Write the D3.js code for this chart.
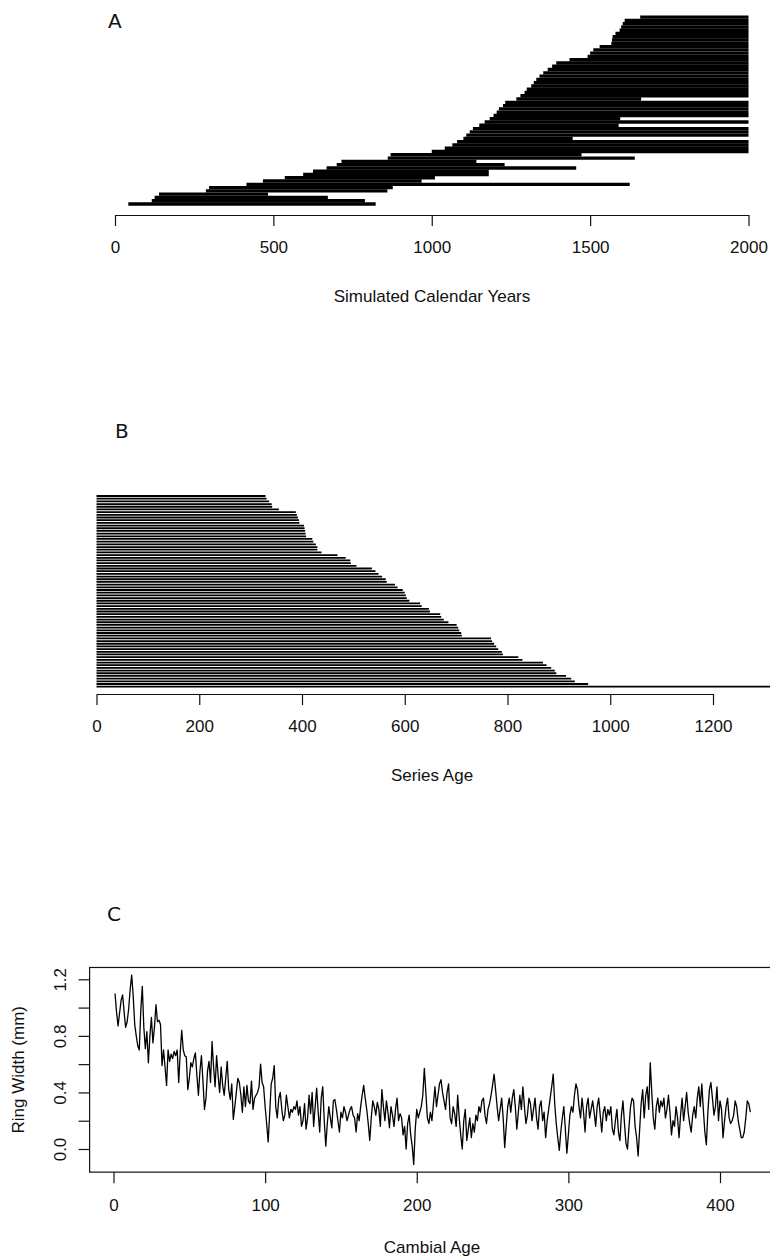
<!DOCTYPE html>
<html>
<head>
<meta charset="utf-8">
<script src="https://cdn.jsdelivr.net/npm/d3@7/dist/d3.min.js"></script>
<style>
  body { margin: 0; background: #fff; }
  svg { display: block; }
</style>
</head>
<body>
<svg id="fig" width="770" height="1256"></svg>
<script>
// ---- Panel A: series spans in simulated calendar years (earliest start first) ----
const spanStart = [42, 116, 125, 139, 287, 297, 415, 467, 536, 594,
  625, 668, 700, 715, 861, 870, 1000, 1041, 1065, 1080,
  1100, 1109, 1120, 1130, 1150, 1167, 1183, 1195, 1205, 1212,
  1225, 1232, 1267, 1280, 1293, 1300, 1314, 1322, 1330, 1340,
  1352, 1366, 1380, 1393, 1435, 1492, 1500, 1510, 1530, 1567,
  1569, 1571, 1580, 1593, 1598, 1603, 1609, 1658];
const spanEnd = [823, 789, 672, 483, 860, 877, 1625, 968, 1010, 1180,
  1180, 1456, 1230, 1141, 1641, 1473, 2000, 2000, 2000, 2000,
  1445, 2000, 2000, 2000, 1590, 2000, 1595, 2000, 2000, 2000,
  2000, 2000, 1661, 2000, 2000, 2000, 2000, 2000, 2000, 2000,
  2000, 2000, 2000, 2000, 2000, 2000, 2000, 2000, 2000, 2000,
  2000, 2000, 2000, 2000, 2000, 2000, 2000, 2000];
const yearTicks = [0, 500, 1000, 1500, 2000];

// ---- Panel B: series ages, shortest first ----
const seriesAge = [329, 331, 336, 341, 342, 355, 388, 390, 392, 394,
  395, 404, 405, 406, 407, 408, 420, 422, 427, 430,
  430, 438, 469, 485, 494, 495, 506, 536, 543, 549,
  556, 563, 565, 581, 586, 596, 600, 602, 604, 609,
  630, 633, 647, 649, 669, 671, 676, 685, 701, 704,
  706, 710, 711, 768, 770, 774, 778, 782, 789, 791,
  821, 829, 869, 876, 885, 892, 895, 914, 924, 931,
  957, 1330];
const ageTicks = [0, 200, 400, 600, 800, 1000, 1200];

// ---- Panel C: ring width (mm) by cambial age 1..420 ----
const ringWidth = [
  1.10, 0.97, 0.87, 0.96, 1.05, 1.09, 0.97, 0.86, 0.90, 0.99,
  1.13, 1.23, 1.08, 0.88, 0.80, 0.73, 0.70, 0.98, 1.15, 0.86,
  0.71, 0.83, 0.61, 0.80, 0.93, 0.75, 0.86, 1.02, 0.90, 0.91,
  0.88, 0.59, 0.70, 0.58, 0.45, 0.70, 0.62, 0.67, 0.64, 0.69,
  0.66, 0.70, 0.47, 0.68, 0.84, 0.70, 0.66, 0.65, 0.42, 0.50,
  0.61, 0.58, 0.64, 0.68, 0.52, 0.38, 0.55, 0.66, 0.48, 0.28,
  0.36, 0.55, 0.62, 0.47, 0.76, 0.58, 0.44, 0.66, 0.52, 0.40,
  0.58, 0.45, 0.38, 0.50, 0.62, 0.42, 0.35, 0.46, 0.21, 0.30,
  0.40, 0.50, 0.47, 0.38, 0.26, 0.44, 0.30, 0.45, 0.34, 0.32,
  0.48, 0.28, 0.36, 0.38, 0.40, 0.44, 0.60, 0.47, 0.44, 0.30,
  0.18, 0.05, 0.25, 0.46, 0.50, 0.59, 0.30, 0.22, 0.36, 0.40,
  0.28, 0.20, 0.24, 0.38, 0.30, 0.22, 0.28, 0.26, 0.30, 0.28,
  0.34, 0.24, 0.30, 0.16, 0.20, 0.32, 0.14, 0.22, 0.38, 0.25,
  0.40, 0.16, 0.30, 0.43, 0.26, 0.12, 0.36, 0.44, 0.20, 0.02,
  0.18, 0.30, 0.22, 0.15, 0.34, 0.35, 0.28, 0.20, 0.12, 0.26,
  0.22, 0.30, 0.26, 0.20, 0.24, 0.28, 0.30, 0.24, 0.22, 0.12,
  0.25, 0.20, 0.30, 0.38, 0.45, 0.36, 0.28, 0.18, 0.06, 0.22,
  0.34, 0.30, 0.24, 0.33, 0.28, 0.16, 0.42, 0.30, 0.20, 0.34,
  0.26, 0.15, 0.30, 0.24, 0.16, 0.28, 0.36, 0.20, 0.25, 0.22,
  0.10, 0.16, 0.00, 0.18, 0.24, 0.10, 0.02, -0.11, 0.14, 0.28,
  0.22, 0.26, 0.30, 0.38, 0.57, 0.40, 0.22, 0.18, 0.26, 0.20,
  0.32, 0.44, 0.30, 0.38, 0.46, 0.49, 0.40, 0.34, 0.28, 0.40,
  0.46, 0.22, 0.18, 0.30, 0.25, 0.16, 0.38, 0.22, 0.10, 0.00,
  0.20, 0.28, 0.06, 0.14, 0.22, 0.08, 0.18, 0.12, 0.24, 0.20,
  0.30, 0.26, 0.34, 0.36, 0.24, 0.18, 0.28, 0.32, 0.38, 0.45,
  0.53, 0.42, 0.30, 0.20, 0.28, 0.36, 0.22, 0.01, 0.16, 0.30,
  0.36, 0.26, 0.36, 0.42, 0.30, 0.14, 0.26, 0.38, 0.28, 0.44,
  0.30, 0.18, 0.24, 0.36, 0.32, 0.20, 0.28, 0.36, 0.22, 0.14,
  0.30, 0.34, 0.20, 0.26, 0.08, 0.20, 0.28, 0.36, 0.44, 0.53,
  0.32, 0.18, 0.08, -0.01, 0.12, 0.22, 0.30, 0.14, -0.03, 0.10,
  0.24, 0.30, 0.26, 0.38, 0.46, 0.42, 0.30, 0.22, 0.36, 0.26,
  0.12, 0.30, 0.36, 0.22, 0.28, 0.34, 0.26, 0.16, 0.30, 0.36,
  0.24, 0.12, 0.26, 0.30, 0.20, 0.28, 0.24, 0.30, 0.14, 0.10,
  0.20, 0.28, 0.12, 0.06, 0.24, 0.34, 0.18, 0.04, 0.00, 0.16,
  0.30, 0.36, 0.34, 0.16, 0.08, -0.05, 0.14, 0.32, 0.42, 0.22,
  0.38, 0.44, 0.28, 0.61, 0.40, 0.22, 0.14, 0.30, 0.36, 0.26,
  0.34, 0.30, 0.36, 0.22, 0.28, 0.38, 0.26, 0.10, 0.20, 0.16,
  0.30, 0.22, 0.08, 0.24, 0.36, 0.20, 0.30, 0.40, 0.26, 0.18,
  0.12, 0.24, 0.30, 0.22, 0.36, 0.44, 0.30, 0.46, 0.28, 0.12,
  0.03, 0.26, 0.42, 0.47, 0.36, 0.24, 0.30, 0.44, 0.20, 0.34,
  0.28, 0.08, 0.20, 0.30, 0.36, 0.22, 0.18, 0.20, 0.24, 0.34,
  0.30, 0.20, 0.14, 0.08, 0.08, 0.12, 0.22, 0.34, 0.32, 0.26];
const cambialTicks = [0, 100, 200, 300, 400];
const widthTicks = [0, 0.2, 0.4, 0.6, 0.8, 1.0, 1.2];
const widthTickLabels = ["0.0", "", "0.4", "", "0.8", "", "1.2"];

const svg = d3.select("#fig");
svg.append("rect").attr("width", 770).attr("height", 1256).attr("fill", "#fff");

const LABEL_FONT = "'Liberation Sans', Arial, Helvetica, sans-serif";
const LETTER_FONT = "'DejaVu Sans', 'Liberation Sans', sans-serif";
const FS = 17;
const CENTER_X = 432;

function styleAxis(g) {
  g.attr("font-family", LABEL_FONT).attr("font-size", FS);
  g.selectAll("path, line").attr("stroke", "#111").attr("stroke-width", 1.2);
  g.selectAll("text").attr("fill", "#111");
}
function panelLetter(t, x, y) {
  svg.append("text").attr("x", x).attr("y", y)
    .attr("font-family", LETTER_FONT).attr("font-size", 20)
    .attr("fill", "#111").text(t);
}
function axisTitle(t, x, y) {
  svg.append("text").attr("x", x).attr("y", y)
    .attr("text-anchor", "middle").attr("dy", "0.35em")
    .attr("font-family", LABEL_FONT).attr("font-size", FS)
    .attr("fill", "#111").text(t);
}

// ================= Panel A: segment plot =================
panelLetter("A", 108, 28);
const xA = d3.scaleLinear().domain([0, 2000]).range([115, 748.5]);
const rowA = d3.scaleLinear().domain([1, spanStart.length]).range([204, 17.1]);

svg.append("g").selectAll("line")
  .data(spanStart.map((s, i) => ({ s, e: spanEnd[i], r: i + 1 })))
  .join("line")
  .attr("x1", d => xA(d.s)).attr("x2", d => xA(d.e))
  .attr("y1", d => rowA(d.r)).attr("y2", d => rowA(d.r))
  .attr("stroke", "#000").attr("stroke-width", 3.4);

svg.append("g").attr("transform", "translate(0,215)")
  .call(d3.axisBottom(xA).tickValues(yearTicks).tickFormat(d3.format("d"))
    .tickSize(11).tickSizeOuter(0).tickPadding(15))
  .call(styleAxis);
axisTitle("Simulated Calendar Years", CENTER_X, 296);

// ================= Panel B: series age =================
panelLetter("B", 115, 438);
const xB = d3.scaleLinear().domain([0, 1200]).range([96.5, 713]);
const rowB = d3.scaleLinear().domain([0, seriesAge.length - 1]).range([496, 686.7]);

svg.append("g").selectAll("line")
  .data(seriesAge)
  .join("line")
  .attr("x1", xB(0)).attr("x2", d => xB(d))
  .attr("y1", (d, i) => rowB(i)).attr("y2", (d, i) => rowB(i))
  .attr("stroke", "#000").attr("stroke-width", 1.8);

svg.append("g").attr("transform", "translate(0,694)")
  .call(d3.axisBottom(xB).tickValues(ageTicks).tickFormat(d3.format("d"))
    .tickSize(11).tickSizeOuter(0).tickPadding(15))
  .call(styleAxis);
axisTitle("Series Age", CENTER_X, 775);

// ================= Panel C: ring-width series =================
panelLetter("C", 107, 921);
const ages = ringWidth.map((v, i) => i + 1);
const xC = d3.scaleLinear().domain([0, 400]).range([113.5, 720]);
const yC = d3.scaleLinear().domain([0, 1.2]).range([1149, 979.3]);

// plot box padded 4% beyond the data range on each side
const [a0, a1] = d3.extent(ages);
const [v0, v1] = d3.extent(ringWidth);
const ax = (a1 - a0) * 0.04, vy = (v1 - v0) * 0.04;
const boxL = xC(a0 - ax), boxR = xC(a1 + ax);
const boxT = yC(v1 + vy), boxB = yC(v0 - vy);

svg.append("path")
  .datum(ringWidth)
  .attr("fill", "none").attr("stroke", "#000").attr("stroke-width", 1.3)
  .attr("stroke-linejoin", "round")
  .attr("d", d3.line().x((d, i) => xC(ages[i])).y(d => yC(d)));

svg.append("rect")
  .attr("x", boxL).attr("y", boxT)
  .attr("width", boxR - boxL).attr("height", boxB - boxT)
  .attr("fill", "none").attr("stroke", "#111").attr("stroke-width", 1.2);

const gxC = svg.append("g").attr("transform", `translate(0,${boxB})`)
  .call(d3.axisBottom(xC).tickValues(cambialTicks).tickFormat(d3.format("d"))
    .tickSize(11).tickSizeOuter(0).tickPadding(16))
  .call(styleAxis);
gxC.select(".domain").remove();

const gyC = svg.append("g").attr("transform", `translate(${boxL},0)`)
  .call(d3.axisLeft(yC).tickValues(widthTicks)
    .tickFormat((d, i) => widthTickLabels[i]).tickSize(11).tickSizeOuter(0))
  .call(styleAxis);
gyC.select(".domain").remove();
gyC.selectAll(".tick text")
  .attr("x", null).attr("y", null)
  .attr("text-anchor", "middle").attr("dy", "0.36em")
  .attr("transform", `translate(${60 - boxL},0) rotate(-90)`);

svg.append("text")
  .attr("transform", `translate(18,${(boxT + boxB) / 2}) rotate(-90)`)
  .attr("text-anchor", "middle").attr("dy", "0.35em")
  .attr("font-family", LABEL_FONT).attr("font-size", FS)
  .attr("fill", "#111").text("Ring Width (mm)");

axisTitle("Cambial Age", CENTER_X, 1247);
</script>
</body>
</html>
